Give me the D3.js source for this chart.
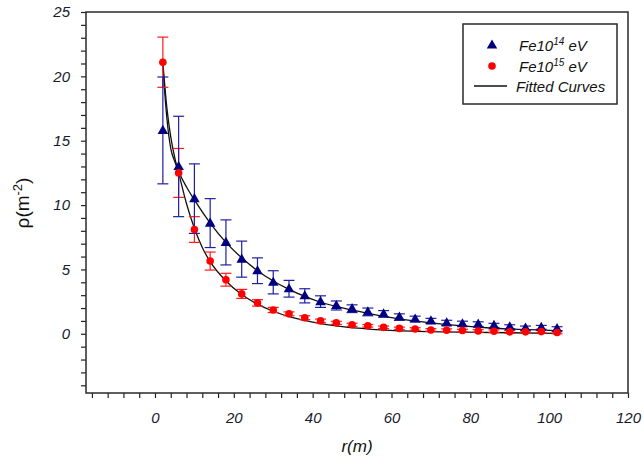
<!DOCTYPE html>
<html><head><meta charset="utf-8">
<script src="https://cdn.jsdelivr.net/npm/d3@7"></script>
<style>body{margin:0;background:#fff}svg{display:block}</style>
</head><body><svg id="c" width="643" height="459"></svg>
<script>
const radii = [2,6,10,14,18,22,26,30,34,38,42,46,50,54,58,62,66,70,74,78,82,86,90,94,98,102];
const fe14 = [15.8,13.0,10.5,8.6,7.1,5.8,4.9,4.0,3.5,2.95,2.5,2.2,1.95,1.7,1.55,1.3,1.15,1.0,0.85,0.78,0.75,0.65,0.55,0.45,0.5,0.4];
const fe14Err = [4.15,3.9,2.7,1.9,1.75,1.4,1.0,0.9,0.65,0.55,0.45,0.35,0.3,0.3,0.25,0.25,0.22,0.2,0.2,0.2,0.18,0.16,0.15,0.15,0.15,0.15];
const fe15 = [21.1,12.5,8.1,5.65,4.2,3.1,2.4,1.85,1.55,1.25,1.0,0.85,0.7,0.62,0.5,0.42,0.37,0.3,0.28,0.25,0.22,0.2,0.15,0.15,0.17,0.1];
const fe15Err = [1.95,1.9,1.0,0.7,0.5,0.35,0.25,0.2,0.15,0.15,0.14,0.12,0.12,0.1,0.1,0.1,0.1,0.1,0.1,0.1,0.1,0.1,0.1,0.1,0.1,0.1];
const fitR14 = [2,3,4,5,6,8,10,14,18,22,26,30,34,38,42,47,52,60,70,85,102];
const fit14  = [20.8,16.8,14.4,13.4,12.6,11.4,10.4,8.6,7.1,5.9,4.9,4.1,3.45,2.9,2.45,2.05,1.72,1.25,0.85,0.45,0.25];
const fitR15 = [2,3,4,5,6,8,10,12,14,18,22,26,30,35,40,47,55,65,85,102];
const fit15  = [21.1,17.6,15.3,13.7,12.5,10.1,8.2,6.7,5.6,4.1,3.05,2.3,1.75,1.25,0.9,0.57,0.35,0.2,0.1,0.03];
const xTicks = d3.range(-16, 121, 4);
const yTicks = d3.range(-4, 26, 1);
const legendLabels = [["Fe10","14"," eV"],["Fe10","15"," eV"],["Fitted Curves"]];

const svg = d3.select("#c");
const L=86, R=628, T=12, B=393;
const x = d3.scaleLinear().domain([-17.5,120]).range([L,R]);
const y = d3.scaleLinear().domain([-4.6,25]).range([B,T]);
const font = "'Liberation Sans', Arial, sans-serif";

// axes
const xa = svg.append("g").attr("transform",`translate(0,${B})`)
  .call(d3.axisBottom(x).tickValues(xTicks).tickSize(5).tickPadding(14)
    .tickFormat(d => d % 20 === 0 ? d : ""));
const ya = svg.append("g").attr("transform",`translate(${L},0)`)
  .call(d3.axisLeft(y).tickValues(yTicks).tickSize(5).tickPadding(11)
    .tickFormat(d => d % 5 === 0 ? d : ""));
[xa,ya].forEach(a=>{
  a.select(".domain").remove();
  a.selectAll(".tick line").attr("stroke","#222").attr("stroke-width",1.2);
  a.selectAll("text").attr("font-family",font).attr("font-style","italic")
    .attr("font-size",15).attr("fill","#1a1a2e");
});
// frame
svg.append("rect").attr("x",L).attr("y",T).attr("width",R-L).attr("height",B-T)
  .attr("fill","none").attr("stroke","#2a2a2a").attr("stroke-width",1.5);

// fitted curves
const line = d3.line().x(d=>x(d[0])).y(d=>y(d[1])).curve(d3.curveMonotoneX);
svg.append("path").datum(fitR14.map((r,i)=>[r,fit14[i]])).attr("d",line)
  .attr("fill","none").attr("stroke","#111").attr("stroke-width",1.3);
svg.append("path").datum(fitR15.map((r,i)=>[r,fit15[i]])).attr("d",line)
  .attr("fill","none").attr("stroke","#111").attr("stroke-width",1.3);

// error bars
function errBars(vals, errs, color){
  const g = svg.append("g").attr("stroke",color).attr("stroke-width",1.2);
  radii.forEach((r,i)=>{
    const cx=x(r), y1=y(vals[i]+errs[i]), y2=y(vals[i]-errs[i]);
    g.append("line").attr("x1",cx).attr("x2",cx).attr("y1",y1).attr("y2",y2);
    g.append("line").attr("x1",cx-5.5).attr("x2",cx+5.5).attr("y1",y1).attr("y2",y1);
    g.append("line").attr("x1",cx-5.5).attr("x2",cx+5.5).attr("y1",y2).attr("y2",y2);
  });
}
errBars(fe15, fe15Err, "#ff1a1a");
errBars(fe14, fe14Err, "#1f1fa0");

const tri = d3.symbol().type(d3.symbolTriangle).size(48);
svg.append("g").selectAll("path").data(radii).join("path")
  .attr("d",tri).attr("transform",(r,i)=>`translate(${x(r)},${y(fe14[i])+0.5})`)
  .attr("fill","#000080");
svg.append("g").selectAll("circle").data(radii).join("circle")
  .attr("cx",r=>x(r)).attr("cy",(r,i)=>y(fe15[i])).attr("r",3.8).attr("fill","#ff0000");

// legend
const lg = svg.append("g");
lg.append("rect").attr("x",463).attr("y",24).attr("width",154).attr("height",80)
  .attr("fill","#fff").attr("stroke","#2a2a2a").attr("stroke-width",1.5);
lg.append("path").attr("d",tri).attr("transform","translate(492,45.5)").attr("fill","#000080");
lg.append("circle").attr("cx",492).attr("cy",66).attr("r",3.8).attr("fill","#ff0000");
lg.append("line").attr("x1",474).attr("x2",507).attr("y1",86).attr("y2",86)
  .attr("stroke","#111").attr("stroke-width",1.3);
const ys = [51,72,92];
legendLabels.forEach((lab,i)=>{
  const t = lg.append("text").attr("x", i<2 ? 519 : 516).attr("y",ys[i])
    .attr("font-family",font).attr("font-style","italic").attr("font-size",15).attr("fill","#111");
  if(lab.length===3){
    t.append("tspan").text(lab[0]);
    t.append("tspan").attr("dy",-6).attr("font-size",10).text(lab[1]);
    t.append("tspan").attr("dy",6).text(lab[2]);
  } else t.text(lab[0]);
});

// axis titles
svg.append("text").attr("x",357).attr("y",452).attr("text-anchor","middle")
  .attr("font-family",font).attr("font-style","italic").attr("font-size",17).attr("fill","#111").text("r(m)");
const yt = svg.append("text").attr("transform","translate(29,203) rotate(-90)").attr("text-anchor","middle")
  .attr("font-family",font).attr("font-size",19).attr("fill","#111");
yt.append("tspan").text("ρ(m");
yt.append("tspan").attr("dy",-7).attr("font-size",13).text("-2");
yt.append("tspan").attr("dy",7).text(")");
</script></body></html>
